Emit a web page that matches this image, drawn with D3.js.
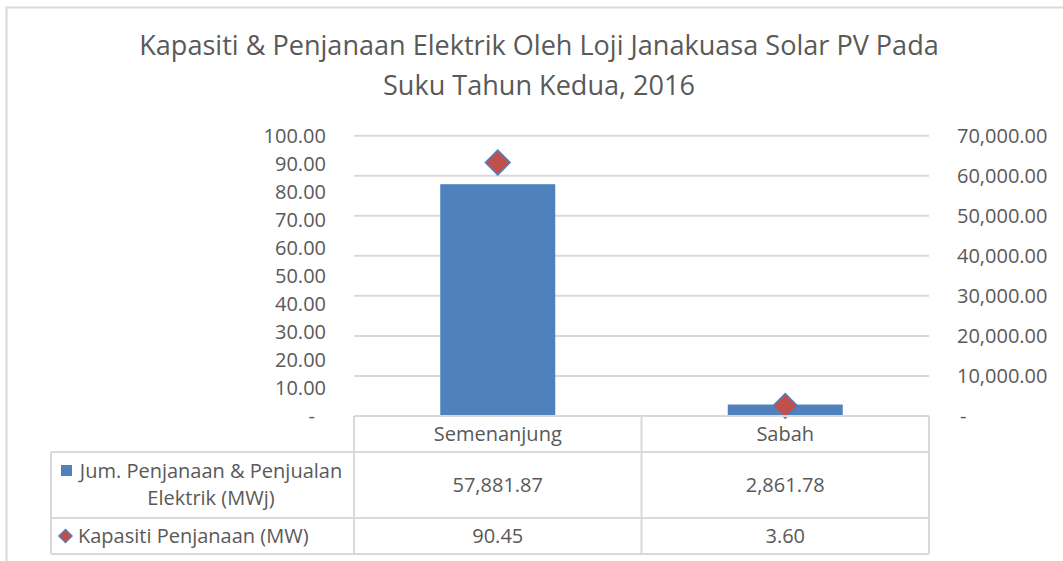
<!DOCTYPE html>
<html>
<head>
<meta charset="utf-8">
<script src="https://cdn.jsdelivr.net/npm/d3@7"></script>
<style>
  html, body { margin: 0; padding: 0; background: #fff; }
  svg { display: block; }
  text { font-family: "Open Sans", "DejaVu Sans", sans-serif; fill: #595959; }
</style>
</head>
<body>
<svg id="chart" width="1063" height="561"></svg>
<script>
// ---- data ----
const titleLines = ["Kapasiti & Penjanaan Elektrik Oleh Loji Janakuasa Solar PV Pada", "Suku Tahun Kedua, 2016"];
const categories = ["Semenanjung", "Sabah"];
const generation = [57881.87, 2861.78];   // Jum. Penjanaan & Penjualan Elektrik (MWj) - bars, right axis
const capacity = [90.45, 3.60];           // Kapasiti Penjanaan (MW) - diamonds, left axis
const seriesNames = ["Jum. Penjanaan & Penjualan Elektrik (MWj)", "Kapasiti Penjanaan (MW)"];
const legendLines = [["Jum. Penjanaan & Penjualan", "Elektrik (MWj)"], ["Kapasiti Penjanaan (MW)"]];
const leftTicks = [0, 10, 20, 30, 40, 50, 60, 70, 80, 90, 100];
const rightTicks = [0, 10000, 20000, 30000, 40000, 50000, 60000, 70000];

// ---- layout ----
const barColor = "#4F81BD", diamondFill = "#C0504D", gridColor = "#D9D9D9", textColor = "#595959";
const plotL = 354, plotR = 929, plotT = 135.7, plotB = 416;
const tableL = 51, rowY = [416, 452, 518, 554];
const fs = 20;

const svg = d3.select("#chart");

// outer chart border
svg.append("rect").attr("x", 6.5).attr("y", 7.5).attr("width", 1100).attr("height", 600)
  .attr("fill", "none").attr("stroke", gridColor).attr("stroke-width", 2);

// title
const titleTargets = [800, 306];
const titleY = [55, 95];
titleLines.forEach((t, i) => {
  const el = svg.append("text").attr("x", 539).attr("y", titleY[i])
    .attr("text-anchor", "middle").style("font-size", "24px").text(t);
  const w = el.node().getComputedTextLength();
  if (i === 0) {
    const size = 24 * titleTargets[0] / w;
    svg.selectAll("text.title").remove();
    el.style("font-size", size + "px").attr("class", "title");
  }
});
// make second title line same size as the first
const t0size = svg.select("text.title").style("font-size");
svg.selectAll("text").filter((d, i, n) => n[i].textContent === titleLines[1]).style("font-size", t0size);

// scales
const yL = d3.scaleLinear().domain([0, 100]).range([plotB, plotT]);
const yR = d3.scaleLinear().domain([0, 70000]).range([plotB, plotT]);
const x = d3.scaleBand().domain(categories).range([plotL, plotR]).paddingInner(0.6).paddingOuter(0.3);
const xCell = d3.scaleBand().domain(categories).range([plotL, plotR]);

// gridlines
svg.append("g").selectAll("line").data(rightTicks.filter(d => d > 0)).join("line")
  .attr("x1", plotL).attr("x2", plotR)
  .attr("y1", d => yR(d)).attr("y2", d => yR(d))
  .attr("stroke", gridColor).attr("stroke-width", 2);

// axes
const fmt = d3.format(",.2f");
const gL = svg.append("g").attr("transform", "translate(326,0)")
  .call(d3.axisLeft(yL).tickValues(leftTicks).tickSize(0).tickPadding(0)
    .tickFormat(d => d === 0 ? "-" : fmt(d)));
const gR = svg.append("g").attr("transform", "translate(957,0)")
  .call(d3.axisRight(yR).tickValues(rightTicks).tickSize(0).tickPadding(0)
    .tickFormat(d => d === 0 ? "-" : fmt(d)));
[gL, gR].forEach(g => {
  g.select(".domain").remove();
  g.selectAll("text").attr("font-family", null).style("font-size", fs + "px").attr("fill", textColor);
});
gL.selectAll(".tick").filter(d => d === 0).select("text").attr("dx", -11);
gR.selectAll(".tick").filter(d => d === 0).select("text").attr("dx", 3);

// bars
svg.append("g").selectAll("rect").data(categories).join("rect")
  .attr("x", d => x(d)).attr("width", x.bandwidth())
  .attr("y", (d, i) => yR(generation[i]))
  .attr("height", (d, i) => yR(0) - yR(generation[i]))
  .attr("fill", barColor);

// diamonds
const diamond = d3.symbol().type(d3.symbolSquare).size(306);
svg.append("g").selectAll("path").data(categories).join("path")
  .attr("d", diamond)
  .attr("transform", (d, i) => `translate(${x(d) + x.bandwidth() / 2},${yL(capacity[i])}) rotate(45)`)
  .attr("fill", diamondFill).attr("stroke", barColor).attr("stroke-width", 1.5);

// data table
const tg = svg.append("g").attr("stroke", gridColor).attr("stroke-width", 2);
tg.append("line").attr("x1", plotL).attr("x2", plotR).attr("y1", rowY[0]).attr("y2", rowY[0]);
[1, 2, 3].forEach(r => tg.append("line").attr("x1", tableL).attr("x2", plotR).attr("y1", rowY[r]).attr("y2", rowY[r]));
tg.append("line").attr("x1", tableL).attr("x2", tableL).attr("y1", rowY[1]).attr("y2", rowY[3]);
[plotL, plotL + xCell.bandwidth(), plotR].forEach(xx =>
  tg.append("line").attr("x1", xx).attr("x2", xx).attr("y1", rowY[0]).attr("y2", rowY[3]));

const cellText = (xx, yy, t, anchor) => svg.append("text").attr("x", xx).attr("y", yy)
  .attr("dy", "0.35em").attr("text-anchor", anchor || "middle").style("font-size", fs + "px").text(t);

categories.forEach((c, i) => {
  const cx = xCell(c) + xCell.bandwidth() / 2;
  cellText(cx, (rowY[0] + rowY[1]) / 2, c);
  cellText(cx, (rowY[1] + rowY[2]) / 2, fmt(generation[i]));
  cellText(cx, (rowY[2] + rowY[3]) / 2, fmt(capacity[i]));
});

// legend cells
cellText(211, 471, legendLines[0][0]);
cellText(211, 498, legendLines[0][1]);
svg.append("rect").attr("x", 61).attr("y", 465).attr("width", 11).attr("height", 11).attr("fill", barColor);

cellText(78, (rowY[2] + rowY[3]) / 2, legendLines[1][0], "start");
svg.append("path").attr("d", d3.symbol().type(d3.symbolSquare).size(90)())
  .attr("transform", `translate(65.5,${(rowY[2] + rowY[3]) / 2}) rotate(45)`)
  .attr("fill", diamondFill).attr("stroke", barColor).attr("stroke-width", 1.2);
</script>
</body>
</html>
